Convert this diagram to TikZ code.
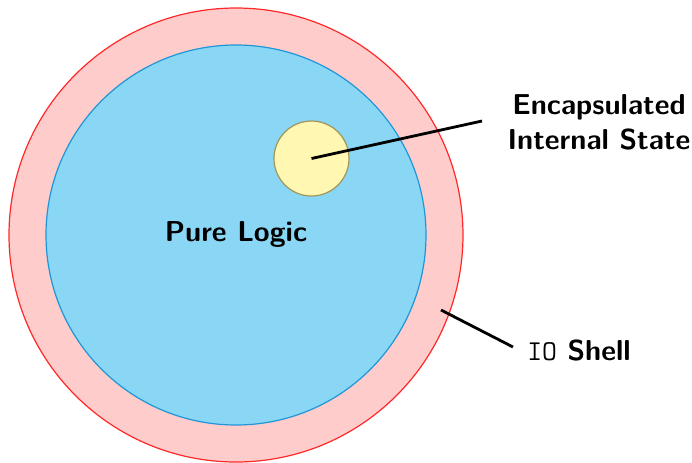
\documentclass[tikz,border=0pt]{standalone}
\usetikzlibrary{calc}
\definecolor{shellfill}{RGB}{255,204,204}
\definecolor{shelldraw}{RGB}{255,40,40}
\definecolor{logicfill}{RGB}{138,215,245}
\definecolor{logicdraw}{RGB}{30,150,215}
\definecolor{statefill}{RGB}{255,247,178}
\definecolor{statedraw}{RGB}{160,150,90}
\tikzset{
  ring/.style={circle, inner sep=0pt, line width=0.6pt},
  lbl/.style={font=\sffamily\bfseries\fontsize{14.4}{17.5}\selectfont, align=center, inner sep=0pt},
  leader/.style={line width=1.4pt, black}
}
\begin{document}
\begin{tikzpicture}[x=0.5pt, y=-0.5pt]
\useasboundingbox (0,0) rectangle (692,462);
\node[ring, fill=shellfill, draw=shelldraw, minimum size=454*0.5pt] (shell) at (236,235) {};
\node[ring, fill=logicfill, draw=logicdraw, minimum size=380*0.5pt] (logic) at (236,235) {};
\node[ring, fill=statefill, draw=statedraw, minimum size=75*0.5pt] (state) at (311.5,158.5) {};
\node[lbl] (pure) at (236,234) {Pure Logic};
\node[lbl] (enc) at (599,122) {Encapsulated\\Internal State};
\node[lbl, anchor=west] (io) at (527,350) {\texttt{\mdseries IO} Shell};
\coordinate (encend) at (482,121);
\coordinate (shellpt) at (441,310);
\coordinate (ioend) at (513,347);
\draw[leader] (state.center) -- (encend);
\draw[leader] (shellpt) -- (ioend);
\end{tikzpicture}
\end{document}
